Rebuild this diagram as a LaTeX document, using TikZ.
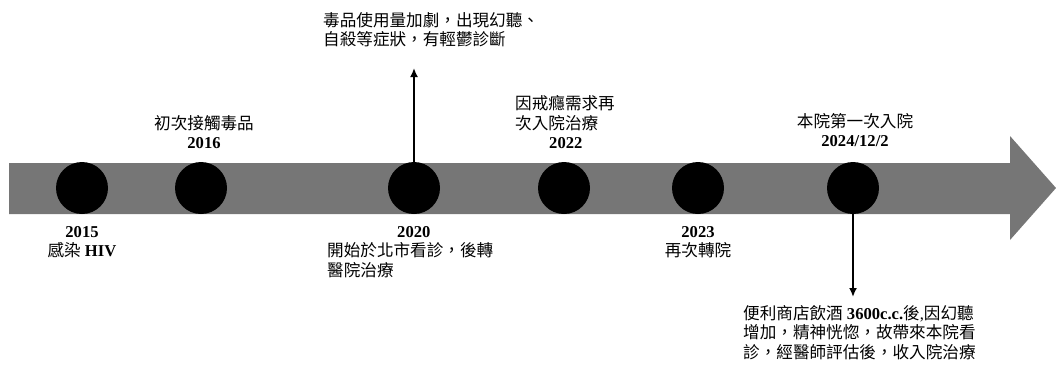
\documentclass[tikz,border=0pt]{standalone}
\usepackage{fontspec}
\setmainfont{Liberation Serif}
\newfontfamily\cjk{Noto Sans CJK TC}
\usetikzlibrary{arrows.meta}
\definecolor{bargray}{RGB}{118,118,118}
\newcommand\zh[1]{{\cjk #1}}
\newcommand\yr[1]{{\bfseries #1}}
\tikzset{
  dot/.style={circle,fill=black,minimum size=52pt,inner sep=0pt},
  lbl/.style={font=\fontsize{16.6}{19.5}\selectfont,inner sep=0pt,align=center},
  lbll/.style={font=\fontsize{16.6}{19.5}\selectfont,inner sep=0pt,align=left},
  conn/.style={line width=2.8pt,-{Latex[length=9pt,width=8pt]}}
}
\begin{document}
\begin{tikzpicture}[x=1pt,y=-1pt]
\useasboundingbox (0,0) rectangle (1056,367);
\fill[bargray] (9,163) -- (1010,163) -- (1010,136) -- (1056,188) -- (1010,240) -- (1010,214) -- (9,214) -- cycle;
\node[dot] (c1) at (82,188) {};
\node[dot] (c2) at (201,188) {};
\node[dot] (c3) at (414,188) {};
\node[dot] (c4) at (564,188) {};
\node[dot] (c5) at (698,188) {};
\node[dot] (c6) at (853,188) {};
% labels
\node[lbl,anchor=north] (t1) at (82,226) {\yr{2015}\\\zh{感染} \yr{HIV}};
\node[lbl,anchor=south] (t2) at (204,149) {\zh{初次接觸毒品}\\\yr{2016}};
\node[lbll,anchor=north west] (t3b) at (327,226) {\hspace*{70pt}\yr{2020}\\\zh{開始於北市看診，後轉}\\\zh{醫院治療}};
\node[lbll,anchor=north west] (t3a) at (323,12) {\zh{毒品使用量加劇，出現幻聽、}\\\zh{自殺等症狀，有輕鬱診斷}};
\node[lbll,anchor=south west] (t4) at (515,149) {\zh{因戒癮需求再}\\\zh{次入院治療}\\\hspace*{34pt}\yr{2022}};
\node[lbl,anchor=north] (t5) at (698,226) {\yr{2023}\\\zh{再次轉院}};
\node[lbl,anchor=south] (t6) at (855,147) {\zh{本院第一次入院}\\\yr{2024/12/2}};
\node[lbll,anchor=north west] (t6b) at (743,305) {\zh{便利商店飲酒} \yr{3600c.c.}\zh{後},\zh{因幻聽}\\\zh{增加，精神恍惚，故帶來本院看}\\\zh{診，經醫師評估後，收入院治療}};
% connectors
\coordinate (a3) at (414,68);
\coordinate (a6) at (853,297);
\draw[conn] (c3.center) -- (a3);
\draw[conn] (c6.center) -- (a6);
\end{tikzpicture}
\end{document}
